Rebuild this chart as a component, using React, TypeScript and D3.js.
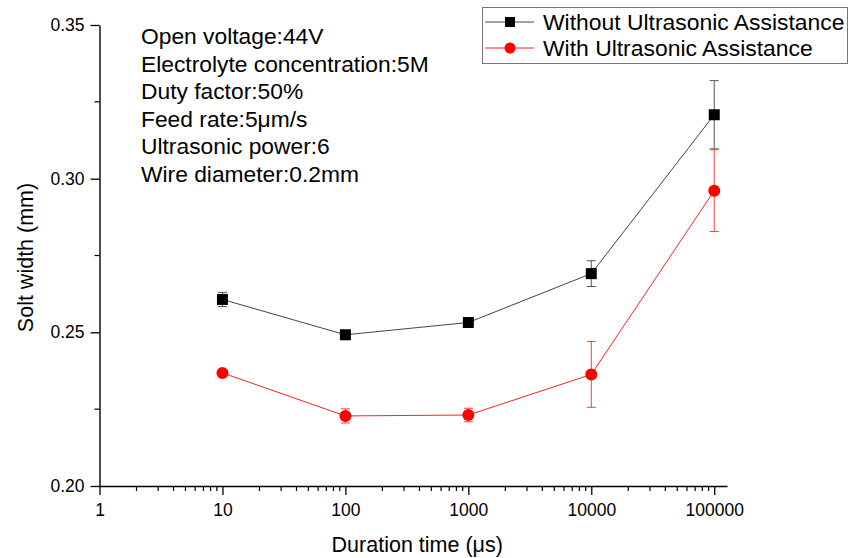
import React, { useRef, useEffect } from 'react';
import * as d3 from 'd3';

const durations = [10, 100, 1000, 10000, 100000];
const withoutUS = [0.2607, 0.2492, 0.2532, 0.2691, 0.3208];
const withoutUSErr = [0.0023, 0.0008, 0.0015, 0.0042, 0.0111];
const withUS = [0.2368, 0.2228, 0.2231, 0.2363, 0.2961];
const withUSErr = [0.0006, 0.0023, 0.0022, 0.0107, 0.0133];

const xMajorTicks = [1, 10, 100, 1000, 10000, 100000];
const yMajorTicks = [0.2, 0.25, 0.3, 0.35];
const yMinorTicks = [0.225, 0.275, 0.325];

const seriesNames = ['Without Ultrasonic Assistance', 'With Ultrasonic Assistance'];
const notes = [
  'Open voltage:44V',
  'Electrolyte concentration:5M',
  'Duty factor:50%',
  'Feed rate:5\u03bcm/s',
  'Ultrasonic power:6',
  'Wire diameter:0.2mm',
];

const FONT = '"Liberation Sans", Arial, Helvetica, sans-serif';

const App = () => {
  const svgRef = useRef<SVGSVGElement>(null);
  const width = 857;
  const height = 558;

  useEffect(() => {
    const svg = d3.select(svgRef.current);
    svg.selectAll('*').remove();

    const left = 99.5;
    const right = 727;
    const top = 25;
    const bottom = 486;

    const x = d3.scaleLog().domain([1, 127000]).range([left, right]);
    const y = d3.scaleLinear().domain([0.2, 0.35]).range([bottom, top]);

    // minor x ticks 2..9 per decade
    const xMinor: number[] = [];
    for (let d = 1; d <= 100000; d *= 10) {
      for (let k = 2; k <= 9; k++) {
        if (d * k <= 127000) xMinor.push(d * k);
      }
    }

    // X axis
    const xAxis = svg.append('g')
      .attr('transform', `translate(0, ${bottom})`)
      .call(d3.axisBottom(x).tickValues(xMajorTicks).tickFormat(d3.format('d')).tickSize(9).tickSizeOuter(0));
    xAxis.select('.domain').attr('stroke', '#000').attr('stroke-width', 1.4);
    xAxis.selectAll('.tick line').attr('stroke', '#000').attr('stroke-width', 1.3);
    xAxis.selectAll('.tick text')
      .attr('y', 30)
      .attr('dy', 0)
      .style('font-family', FONT)
      .style('font-size', '17.5px')
      .attr('fill', '#000');
    svg.append('g').selectAll('line')
      .data(xMinor)
      .enter()
      .append('line')
      .attr('x1', d => x(d))
      .attr('x2', d => x(d))
      .attr('y1', bottom)
      .attr('y2', bottom + 5)
      .attr('stroke', '#000')
      .attr('stroke-width', 1.2);

    // Y axis
    const yAxis = svg.append('g')
      .attr('transform', `translate(${left}, 0)`)
      .call(d3.axisLeft(y).tickValues(yMajorTicks).tickFormat(d3.format('.2f')).tickSize(9).tickSizeOuter(0));
    yAxis.select('.domain').attr('stroke', '#000').attr('stroke-width', 1.4);
    yAxis.selectAll('.tick line').attr('stroke', '#000').attr('stroke-width', 1.3);
    yAxis.selectAll('.tick text')
      .attr('x', -15)
      .style('font-family', FONT)
      .style('font-size', '17.5px')
      .attr('fill', '#000');
    svg.append('g').selectAll('line')
      .data(yMinorTicks)
      .enter()
      .append('line')
      .attr('x1', left - 5)
      .attr('x2', left)
      .attr('y1', d => y(d))
      .attr('y2', d => y(d))
      .attr('stroke', '#000')
      .attr('stroke-width', 1.2);

    // Axis titles
    svg.append('text')
      .attr('x', (left + right) / 2 + 4)
      .attr('y', 552)
      .attr('text-anchor', 'middle')
      .style('font-family', FONT)
      .style('font-size', '21.5px')
      .text('Duration time (\u03bcs)');
    svg.append('text')
      .attr('transform', `translate(33, ${(top + bottom) / 2 + 2}) rotate(-90)`)
      .attr('text-anchor', 'middle')
      .style('font-family', FONT)
      .style('font-size', '21.5px')
      .text('Solt width (mm)');

    // Series
    const series = [
      { name: seriesNames[0], values: withoutUS, errs: withoutUSErr, line: '#444', err: '#555', fill: '#000', shape: 'square' },
      { name: seriesNames[1], values: withUS, errs: withUSErr, line: '#ff2020', err: '#ff4040', fill: '#ff0000', shape: 'circle' },
    ];

    const line = d3.line<number>()
      .x((_, i) => x(durations[i]))
      .y(d => y(d));

    series.forEach(s => {
      svg.append('path')
        .datum(s.values)
        .attr('d', line)
        .attr('fill', 'none')
        .attr('stroke', s.line)
        .attr('stroke-width', 1);

      const eb = svg.append('g');
      s.values.forEach((v, i) => {
        const cx = x(durations[i]);
        const y1 = y(v + s.errs[i]);
        const y2 = y(v - s.errs[i]);
        eb.append('line').attr('x1', cx).attr('x2', cx).attr('y1', y1).attr('y2', y2)
          .attr('stroke', s.err).attr('stroke-width', 1);
        [y1, y2].forEach(yy => {
          eb.append('line').attr('x1', cx - 4.5).attr('x2', cx + 4.5).attr('y1', yy).attr('y2', yy)
            .attr('stroke', s.err).attr('stroke-width', 1);
        });
      });

      const marks = svg.append('g');
      s.values.forEach((v, i) => {
        const cx = x(durations[i]);
        const cy = y(v);
        if (s.shape === 'square') {
          marks.append('rect').attr('x', cx - 5.5).attr('y', cy - 5.5).attr('width', 11).attr('height', 11)
            .attr('fill', s.fill);
        } else {
          marks.append('circle').attr('cx', cx).attr('cy', cy).attr('r', 6).attr('fill', s.fill);
        }
      });
    });

    // Notes block
    const notesG = svg.append('g');
    notes.forEach((t, i) => {
      notesG.append('text')
        .attr('x', 141)
        .attr('y', 44 + i * 27.6)
        .style('font-family', FONT)
        .style('font-size', '22.8px')
        .attr('fill', '#000')
        .text(t);
    });

    // Legend
    const lg = svg.append('g');
    lg.append('rect')
      .attr('x', 482.5)
      .attr('y', 7.5)
      .attr('width', 365)
      .attr('height', 56)
      .attr('fill', '#fff')
      .attr('stroke', '#777')
      .attr('stroke-width', 1);
    series.forEach((s, i) => {
      const ly = 22 + i * 26;
      lg.append('line').attr('x1', 485).attr('x2', 534).attr('y1', ly).attr('y2', ly)
        .attr('stroke', s.line).attr('stroke-width', 1);
      if (s.shape === 'square') {
        lg.append('rect').attr('x', 510 - 5).attr('y', ly - 5).attr('width', 10).attr('height', 10).attr('fill', s.fill);
      } else {
        lg.append('circle').attr('cx', 510).attr('cy', ly).attr('r', 5.5).attr('fill', s.fill);
      }
      lg.append('text')
        .attr('x', 543)
        .attr('y', ly + 8)
        .style('font-family', FONT)
        .style('font-size', '22.9px')
        .attr('fill', '#000')
        .text(s.name);
    });
  }, []);

  return (
    <div style={{ position: 'absolute', left: 0, top: 0 }}>
      <svg ref={svgRef} width={width} height={height} style={{ display: 'block', background: '#fff' }} />
    </div>
  );
};

export default App;
